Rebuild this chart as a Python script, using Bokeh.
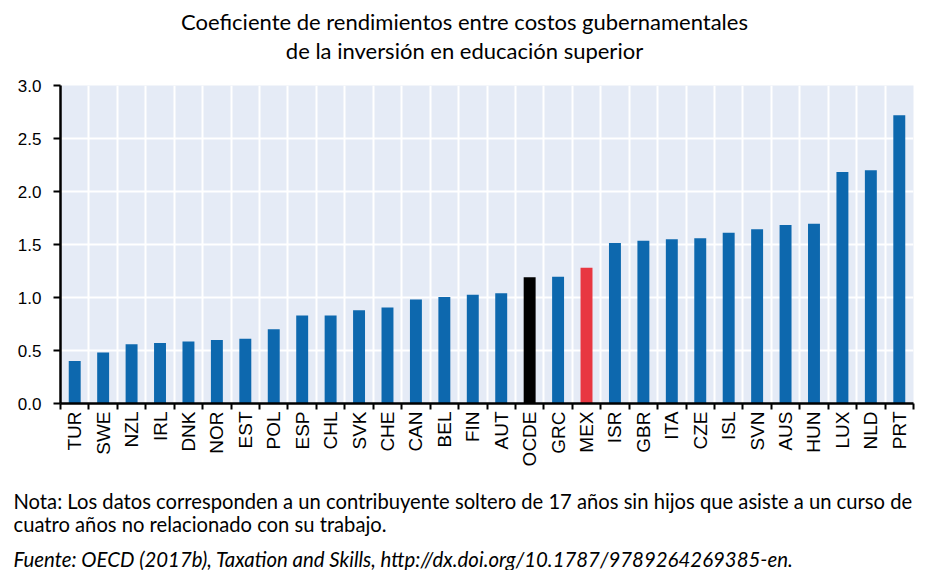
import numpy as np
from bokeh.plotting import figure
from bokeh.layouts import column
from bokeh.models import FixedTicker, Range1d, Label, NumeralTickFormatter
from bokeh.embed import file_html
from bokeh.resources import INLINE

countries = ["TUR", "SWE", "NZL", "IRL", "DNK", "NOR", "EST", "POL", "ESP", "CHL",
             "SVK", "CHE", "CAN", "BEL", "FIN", "AUT", "OCDE", "GRC", "MEX", "ISR",
             "GBR", "ITA", "CZE", "ISL", "SVN", "AUS", "HUN", "LUX", "NLD", "PRT"]
values = [0.40, 0.48, 0.56, 0.57, 0.585, 0.60, 0.61, 0.70, 0.83, 0.83,
          0.88, 0.905, 0.98, 1.005, 1.025, 1.04, 1.19, 1.195, 1.28, 1.515,
          1.535, 1.55, 1.56, 1.61, 1.645, 1.685, 1.695, 2.185, 2.20, 2.72]
y_ticks = [0.0, 0.5, 1.0, 1.5, 2.0, 2.5, 3.0]

title_lines = ["Coeficiente de rendimientos entre costos gubernamentales",
               "de la inversión en educación superior"]
note_lines = ["Nota: Los datos corresponden a un contribuyente soltero de 17 años sin hijos que asiste a un curso de",
              "cuatro años no relacionado con su trabajo."]
source_line = "Fuente: OECD (2017b), Taxation and Skills, http://dx.doi.org/10.1787/9789264269385-en."

BLUE = "#0D68AE"
colors = []
for c in countries:
    if c == "OCDE":
        colors.append("#000000")
    elif c == "MEX":
        colors.append("#E83741")
    else:
        colors.append(BLUE)

n = len(countries)
centers = [i + 0.5 for i in range(n)]
bounds = list(range(n + 1))

W = 928
TOP_H = 75          # title strip
MAIN_TOP = 10       # border above the frame in main figure
FRAME_H = 318
MAIN_BOTTOM = 72
BOT_H = 570 - TOP_H - (MAIN_TOP + FRAME_H + MAIN_BOTTOM)
FL, FR = 60, 913
BASE_FIX = 8        # renderer draws alphabetic baseline this much lower


def text_strip(h, y0):
    f = figure(width=W, height=h, output_backend="svg", toolbar_location=None,
               x_range=Range1d(0, W), y_range=Range1d(y0 + h, y0),
               x_axis_type=None, y_axis_type=None, frame_align=False,
               min_border=0, min_border_left=0, min_border_right=0,
               min_border_top=0, min_border_bottom=0)
    f.outline_line_color = None
    f.grid.visible = False
    f.background_fill_color = "white"
    return f


def add_text(f, txt, px, py, size, align="left", style="normal"):
    f.add_layout(Label(x=px, y=py - BASE_FIX, text=txt, text_align=align,
                       text_baseline="alphabetic", text_font="Lato",
                       text_font_size=size, text_font_style=style,
                       text_color="black"))


# --- title strip (page coordinates) ---
top = text_strip(TOP_H, 0)
add_text(top, title_lines[0], 464, 29, "22px", align="center")
add_text(top, title_lines[1], 464, 58, "22px", align="center")

# --- main chart ---
p = figure(width=W, height=MAIN_TOP + FRAME_H + MAIN_BOTTOM, output_backend="svg",
           toolbar_location=None, frame_align=False,
           x_range=Range1d(0, n), y_range=Range1d(0, 3.0),
           min_border_left=FL, min_border_right=W - FR,
           min_border_top=MAIN_TOP, min_border_bottom=MAIN_BOTTOM)

p.background_fill_color = "#E5EBF6"
p.outline_line_color = None

p.vbar(x=centers, top=values, width=0.42, bottom=0, fill_color=colors, line_color=None)

p.xgrid.ticker = FixedTicker(ticks=bounds)
p.ygrid.ticker = FixedTicker(ticks=y_ticks)
for g in (p.xgrid, p.ygrid):
    g.grid_line_color = "white"
    g.grid_line_width = 2

xa = p.xaxis[0]
xa.ticker = FixedTicker(ticks=centers, minor_ticks=bounds)
xa.major_label_overrides = {c: lab for c, lab in zip(centers, countries)}
xa.major_tick_out = 0
xa.major_tick_in = 0
xa.minor_tick_out = 6
xa.minor_tick_in = 0
xa.minor_tick_line_color = "black"
xa.minor_tick_line_width = 2
xa.axis_line_color = "black"
xa.axis_line_width = 2.5
xa.major_label_orientation = np.pi / 2
xa.major_label_text_font = "Liberation Sans"
xa.major_label_text_font_size = "19px"
xa.major_label_text_color = "black"
xa.major_label_standoff = 2

ya = p.yaxis[0]
ya.ticker = FixedTicker(ticks=y_ticks)
ya.formatter = NumeralTickFormatter(format="0.0")
ya.major_tick_out = 7
ya.major_tick_in = 0
ya.minor_tick_out = 0
ya.minor_tick_in = 0
ya.major_tick_line_color = "black"
ya.major_tick_line_width = 2
ya.axis_line_color = "black"
ya.axis_line_width = 2.5
ya.major_label_text_font = "Liberation Sans"
ya.major_label_text_font_size = "17px"
ya.major_label_text_color = "black"
ya.major_label_standoff = 12

# --- notes strip (page coordinates) ---
y0 = TOP_H + MAIN_TOP + FRAME_H + MAIN_BOTTOM
bot = text_strip(BOT_H, y0)
add_text(bot, note_lines[0], 13, 508, "20.2px")
add_text(bot, note_lines[1], 13, 531, "20.2px")
add_text(bot, source_line, 13, 566, "20.4px", style="italic")

layout = column(top, p, bot, spacing=0)
open("out.html", "w").write(file_html(layout, INLINE))
